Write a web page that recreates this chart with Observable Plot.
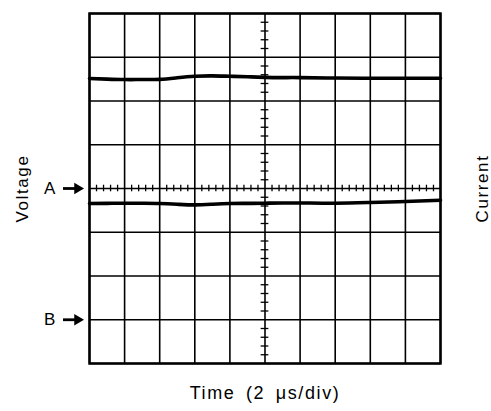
<!DOCTYPE html>
<html>
<head>
<meta charset="utf-8">
<script src="https://cdn.jsdelivr.net/npm/d3@7"></script>
<script src="https://cdn.jsdelivr.net/npm/@observablehq/plot@0.6"></script>
<style>
  html, body { margin: 0; padding: 0; background: #fff; }
</style>
</head>
<body>
<div id="chart"></div>
<script>
// Time axis in divisions (2 µs/div), vertical in divisions
const timeDiv = [0, 0.5, 1, 1.5, 2, 2.5, 3, 3.5, 4, 4.5, 5, 5.5, 6, 7, 8, 9, 10];
const voltageTrace = [2.515, 2.50, 2.49, 2.49, 2.495, 2.53, 2.565, 2.575, 2.565, 2.555, 2.54, 2.535, 2.535, 2.525, 2.52, 2.52, 2.52];
const currentTrace = [-0.343, -0.34, -0.336, -0.338, -0.343, -0.36, -0.375, -0.36, -0.343, -0.34, -0.336, -0.333, -0.33, -0.336, -0.32, -0.297, -0.267];
const xDivisions = d3.range(0, 11);
const yDivisions = d3.range(-4, 5);
const minorX = d3.range(0, 51).map(i => i / 5).filter(v => !Number.isInteger(v));
const minorY = d3.range(-20, 21).map(i => i / 5).filter(v => !Number.isInteger(v));
const markerLabels = ["A", "B"];
const markerLevels = [0, -3];
const xLabel = "Time (2 \u03BCs/div)";
const leftLabel = "Voltage";
const rightLabel = "Current";

const markers = markerLabels.map((label, i) => ({label, level: markerLevels[i]}));
const voltage = timeDiv.map((t, i) => ({t, v: voltageTrace[i]}));
const current = timeDiv.map((t, i) => ({t, v: currentTrace[i]}));

const font = "Liberation Sans";
const chart = Plot.plot({
  width: 491,
  height: 411,
  marginLeft: 89,
  marginRight: 51,
  marginTop: 13,
  marginBottom: 48,
  x: {domain: [0, 10], axis: null},
  y: {domain: [-4, 4], axis: null},
  style: {fontFamily: font, letterSpacing: "1.6px", wordSpacing: "4px", background: "#fff"},
  marks: [
    Plot.ruleX(xDivisions, {stroke: "#000", strokeWidth: 1.6}),
    Plot.ruleY(yDivisions, {stroke: "#000", strokeWidth: 1.6}),
    Plot.ruleX(minorX, {y1: -0.075, y2: 0.075, stroke: "#000", strokeWidth: 1.3}),
    Plot.ruleY(minorY, {x1: 5 - 0.11, x2: 5 + 0.11, stroke: "#000", strokeWidth: 1.3}),
    Plot.frame({stroke: "#000", strokeWidth: 2.5}),
    Plot.line(voltage, {x: "t", y: "v", curve: "natural", stroke: "#000", strokeWidth: 3.6}),
    Plot.line(current, {x: "t", y: "v", curve: "natural", stroke: "#000", strokeWidth: 3.6}),
    Plot.ruleY(markers, {y: "level", x1: -0.74, x2: -0.3, stroke: "#000", strokeWidth: 2.8}),
    Plot.dot(markers, {y: "level", frameAnchor: "left", dx: -12, symbol: "triangle", rotate: 90, r: 4.2, fill: "#000", stroke: "none"}),
    Plot.text(markers, {y: "level", text: "label", frameAnchor: "left", dx: -39, fontSize: 17, textAnchor: "middle", fill: "#000"}),
    Plot.text([leftLabel], {text: d => d, frameAnchor: "left", dx: -67, rotate: -90, fontSize: 17, textAnchor: "middle", fill: "#000"}),
    Plot.text([rightLabel], {text: d => d, frameAnchor: "right", dx: 42, rotate: -90, fontSize: 17, textAnchor: "middle", fill: "#000"}),
    Plot.text([xLabel], {text: d => d, frameAnchor: "bottom", dy: 35, fontSize: 18, textAnchor: "middle", fill: "#000"})
  ]
});
document.getElementById("chart").appendChild(chart);
</script>
</body>
</html>
